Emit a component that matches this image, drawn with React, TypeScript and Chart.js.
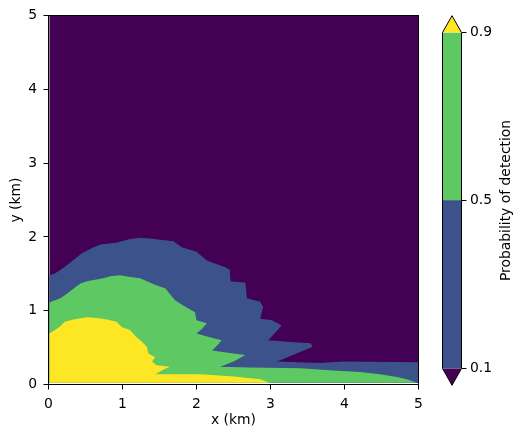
import React, { useEffect, useRef } from 'react';
import { Chart, registerables } from 'chart.js';

Chart.register(...registerables);

// ---- data (km) ----
const X0 = 0.01; // left edge of the computed grid
const Y0 = 0.025; // bottom edge of the computed grid
const xTicks = [0, 1, 2, 3, 4, 5];
const yTicks = [0, 1, 2, 3, 4, 5];
const colorbarTicks = [0.1, 0.5, 0.9];
const levelLabels = ['< 0.1', '0.1 – 0.5', '0.5 – 0.9', '> 0.9'];
const levelColors = ['#440154', '#3b528b', '#5ec962', '#fde725'];

// upper boundary of region P < 0.1 (whole domain)
const purpleTop: number[][] = [[X0, 5], [5, 5]];

// contour P = 0.1
const blueTop: number[][] = [
  [X0, 1.48], [0.08, 1.5], [0.16, 1.55], [0.29, 1.65], [0.45, 1.78], [0.61, 1.86], [0.72, 1.9],
  [0.92, 1.92], [1.1, 1.97], [1.24, 1.99], [1.37, 1.98], [1.51, 1.96], [1.69, 1.94],
  [1.8, 1.86], [2.0, 1.8], [2.14, 1.68], [2.25, 1.64], [2.39, 1.59], [2.45, 1.55],
  [2.46, 1.4], [2.66, 1.38], [2.68, 1.17], [2.86, 1.12], [2.9, 1.05], [2.86, 0.89],
  [3.02, 0.87], [3.15, 0.8], [2.97, 0.6], [3.22, 0.58], [3.54, 0.56], [3.57, 0.51],
  [3.4, 0.44], [3.09, 0.31], [3.67, 0.29], [3.99, 0.31], [5, 0.3],
];

// contour P = 0.5
const greenTop: number[][] = [
  [X0, 1.11], [0.16, 1.17], [0.25, 1.23], [0.34, 1.3], [0.43, 1.37], [0.52, 1.4], [0.74, 1.44],
  [0.85, 1.47], [0.97, 1.48], [1.08, 1.46], [1.24, 1.44], [1.33, 1.4], [1.44, 1.35],
  [1.58, 1.3], [1.62, 1.25], [1.71, 1.14], [1.82, 1.07], [1.98, 0.98], [2.0, 0.87],
  [2.14, 0.83], [2.08, 0.76], [2.0, 0.69], [2.18, 0.64], [2.34, 0.6], [2.28, 0.53],
  [2.21, 0.46], [2.5, 0.42], [2.66, 0.4], [2.5, 0.31], [2.32, 0.24], [2.72, 0.23],
  [3.4, 0.22], [3.85, 0.19], [4.21, 0.17], [4.48, 0.14], [4.71, 0.1], [4.84, 0.07],
  [4.93, 0.04], [4.97, Y0],
];

// contour P = 0.9
const yellowTop: number[][] = [
  [X0, 0.69], [0.09, 0.74], [0.16, 0.79], [0.22, 0.85], [0.34, 0.88], [0.52, 0.91],
  [0.65, 0.9], [0.79, 0.88], [0.92, 0.85], [0.99, 0.78], [1.1, 0.74], [1.19, 0.64],
  [1.24, 0.6], [1.33, 0.51], [1.35, 0.42], [1.44, 0.37], [1.4, 0.31], [1.46, 0.26],
  [1.64, 0.24], [1.55, 0.2], [1.44, 0.14], [2.05, 0.14], [2.5, 0.11], [2.86, 0.07],
  [2.99, Y0],
];

const FONT = { family: "'DejaVu Sans', sans-serif", size: 13.9 };
const FONT_CSS = "13.9px 'DejaVu Sans', sans-serif";

const pts = (a: number[][]) => a.map(([x, y]) => ({ x, y }));

const framePlugin = {
  id: 'frame',
  afterDraw(chart: any) {
    const { ctx, chartArea: a } = chart;
    ctx.save();
    ctx.strokeStyle = '#000';
    ctx.lineWidth = 1;
    ctx.strokeRect(a.left, a.top, a.right - a.left, a.bottom - a.top);
    ctx.restore();
  },
};

const colorbarPlugin = {
  id: 'cbExtras',
  afterDatasetsDraw(chart: any) {
    const { ctx, chartArea: a } = chart;
    const ys = chart.scales.y;
    const top = ys.getPixelForValue(colorbarTicks[colorbarTicks.length - 1]);
    const bot = ys.getPixelForValue(colorbarTicks[0]);
    const ext = (bot - top) * 0.05;
    const mid = (a.left + a.right) / 2;
    ctx.save();
    ctx.fillStyle = levelColors[3];
    ctx.beginPath();
    ctx.moveTo(a.left, top);
    ctx.lineTo(mid, top - ext);
    ctx.lineTo(a.right, top);
    ctx.closePath();
    ctx.fill();
    ctx.fillStyle = levelColors[0];
    ctx.beginPath();
    ctx.moveTo(a.left, bot);
    ctx.lineTo(mid, bot + ext);
    ctx.lineTo(a.right, bot);
    ctx.closePath();
    ctx.fill();
    ctx.strokeStyle = '#000';
    ctx.lineWidth = 1;
    ctx.beginPath();
    ctx.moveTo(a.left, top);
    ctx.lineTo(mid, top - ext);
    ctx.lineTo(a.right, top);
    ctx.lineTo(a.right, bot);
    ctx.lineTo(mid, bot + ext);
    ctx.lineTo(a.left, bot);
    ctx.closePath();
    ctx.stroke();
    // colorbar label
    ctx.fillStyle = '#000';
    ctx.font = FONT_CSS;
    ctx.textAlign = 'center';
    ctx.textBaseline = 'middle';
    ctx.translate(a.right + 44.5, (top + bot) / 2);
    ctx.rotate(-Math.PI / 2);
    ctx.fillText('Probability of detection', 0, 0);
    ctx.restore();
  },
};

const region = (label: string, data: number[][], color: string, order: number) => ({
  label,
  data: pts(data),
  fill: { value: Y0 },
  backgroundColor: color,
  borderColor: 'rgba(0,0,0,0)',
  borderWidth: 0,
  pointRadius: 0,
  tension: 0,
  order,
});

export default function App() {
  const mainRef = useRef<HTMLCanvasElement>(null);
  const cbRef = useRef<HTMLCanvasElement>(null);

  useEffect(() => {
    const axisCommon = {
      type: 'linear' as const,
      min: 0,
      max: 5,
      grid: { drawOnChartArea: false, tickLength: 5, color: '#000', lineWidth: 1 },
      border: { display: false },
    };
    const main = new Chart(mainRef.current!, {
      type: 'line',
      data: {
        datasets: [
          region(levelLabels[3], yellowTop, levelColors[3], 0),
          region(levelLabels[2], greenTop, levelColors[2], 1),
          region(levelLabels[1], blueTop, levelColors[1], 2),
          region(levelLabels[0], purpleTop, levelColors[0], 3),
        ],
      },
      options: {
        animation: false,
        responsive: false,
        devicePixelRatio: 1,
        events: [],
        layout: { padding: { left: 0, top: 15.5, right: 11.5, bottom: 0 } },
        plugins: { legend: { display: false }, tooltip: { enabled: false } },
        scales: {
          x: {
            ...axisCommon,
            afterBuildTicks: (s: any) => { s.ticks = xTicks.map((v) => ({ value: v })); },
            afterFit: (s: any) => { s.height = 53.5; },
            ticks: { color: '#000', font: FONT, padding: 6.5, maxRotation: 0 },
            title: { display: true, text: 'x (km)', color: '#000', font: FONT, padding: { top: 0, bottom: 9 } },
          },
          y: {
            ...axisCommon,
            afterBuildTicks: (s: any) => { s.ticks = yTicks.map((v) => ({ value: v })); },
            afterFit: (s: any) => { s.width = 48.5; },
            ticks: { color: '#000', font: FONT, padding: 6.5 },
            title: { display: true, text: 'y (km)', color: '#000', font: FONT, padding: { top: 8.5, bottom: 0 } },
          },
        },
      },
      plugins: [framePlugin],
    } as any);

    const cb = new Chart(cbRef.current!, {
      type: 'bar',
      data: {
        labels: [''],
        datasets: [
          {
            label: levelLabels[1],
            data: [[colorbarTicks[0], colorbarTicks[1]]],
            backgroundColor: levelColors[1],
            grouped: false,
            barPercentage: 1,
            categoryPercentage: 1,
            borderWidth: 0,
          },
          {
            label: levelLabels[2],
            data: [[colorbarTicks[1], colorbarTicks[2]]],
            backgroundColor: levelColors[2],
            grouped: false,
            barPercentage: 1,
            categoryPercentage: 1,
            borderWidth: 0,
          },
        ],
      },
      options: {
        animation: false,
        responsive: false,
        devicePixelRatio: 1,
        events: [],
        layout: { padding: { left: 12.5, top: 32.5, right: 0, bottom: 438 - 368.5 } },
        plugins: { legend: { display: false }, tooltip: { enabled: false } },
        scales: {
          x: { display: false },
          y: {
            position: 'right',
            min: colorbarTicks[0],
            max: colorbarTicks[colorbarTicks.length - 1],
            afterBuildTicks: (s: any) => { s.ticks = colorbarTicks.map((v) => ({ value: v })); },
            afterFit: (s: any) => { s.width = 60.5; },
            grid: { drawOnChartArea: false, tickLength: 5, color: '#000', lineWidth: 1 },
            border: { display: false },
            ticks: { color: '#000', font: FONT, padding: 3.5, callback: (v: any) => Number(v).toFixed(1) },
          },
        },
      },
      plugins: [colorbarPlugin],
    } as any);

    return () => {
      main.destroy();
      cb.destroy();
    };
  }, []);

  return (
    <div style={{ position: 'absolute', left: 0, top: 0, width: 522, height: 438, background: '#fff' }}>
      <canvas
        ref={mainRef}
        width={430}
        height={438}
        style={{ position: 'absolute', left: 0, top: 0, width: 430, height: 438 }}
      />
      <canvas
        ref={cbRef}
        width={92}
        height={438}
        style={{ position: 'absolute', left: 430, top: 0, width: 92, height: 438 }}
      />
    </div>
  );
}
